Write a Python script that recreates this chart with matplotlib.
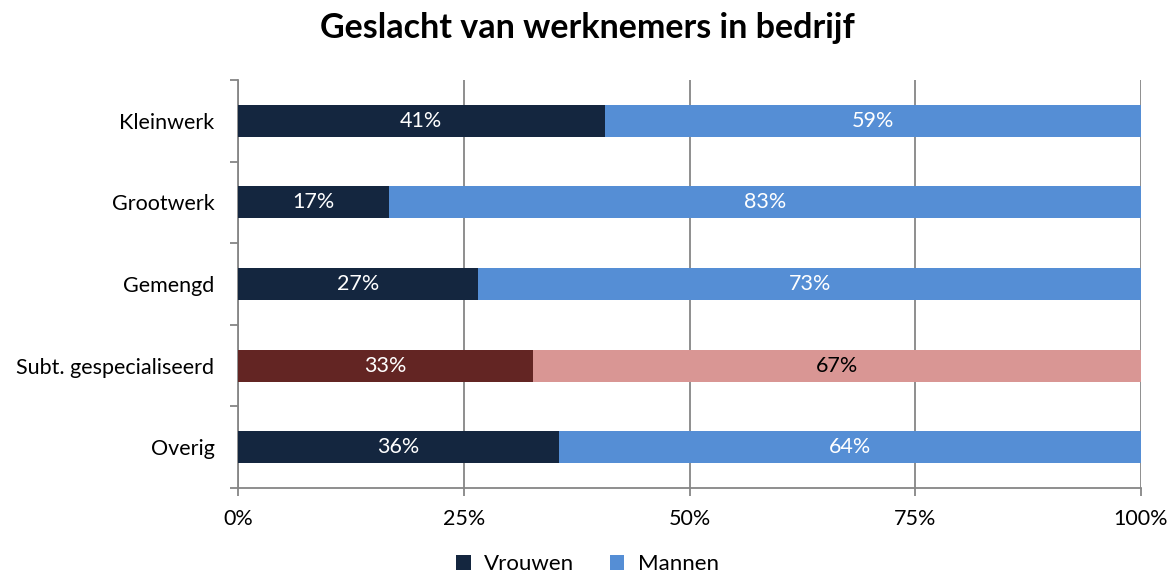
import numpy as np
import matplotlib.pyplot as plt
from matplotlib.ticker import FixedLocator, PercentFormatter

plt.rcParams['font.family'] = ['Lato', 'DejaVu Sans']

CATEGORIES = ['Kleinwerk', 'Grootwerk', 'Gemengd', 'Subt. gespecialiseerd', 'Overig']
VROUWEN = [0.406, 0.167, 0.266, 0.327, 0.355]
MANNEN = [0.594, 0.833, 0.734, 0.673, 0.645]

DARK = ['#14263f', '#14263f', '#14263f', '#632523', '#14263f']
LIGHT = ['#558ed5', '#558ed5', '#558ed5', '#d99694', '#558ed5']
LIGHT_TEXT = ['white', 'white', 'white', 'black', 'white']

FS = 15.5

fig = plt.figure(figsize=(11.75, 5.79), dpi=100)
ax = fig.add_axes([0.2026, 0.1572, 0.7685, 0.7046])

y = np.arange(len(CATEGORIES))[::-1]
vr = np.array(VROUWEN)
mn = np.array(MANNEN)

ax.barh(y, vr, height=0.39, color=DARK, zorder=3)
ax.barh(y, mn, left=vr, height=0.39, color=LIGHT, zorder=3)

for i in range(len(CATEGORIES)):
    ax.text(vr[i] / 2, y[i], '%d%%' % round(vr[i] * 100), ha='center', va='center',
            color='white', fontsize=FS, zorder=4)
    ax.text(vr[i] + mn[i] / 2, y[i], '%d%%' % round(mn[i] * 100), ha='center', va='center',
            color=LIGHT_TEXT[i], fontsize=FS, zorder=4)

# proxies for the legend
ax.bar([0], [0], color='#14263f', label='Vrouwen')
ax.bar([0], [0], color='#558ed5', label='Mannen')

ax.set_xlim(0, 1)
ax.set_ylim(-0.5, len(CATEGORIES) - 0.5)
ax.set_xticks([0, 0.25, 0.5, 0.75, 1.0])
ax.xaxis.set_major_formatter(PercentFormatter(1.0, decimals=0))
ax.set_yticks(y)
ax.set_yticklabels(CATEGORIES)
ax.yaxis.set_minor_locator(FixedLocator(np.arange(-0.5, len(CATEGORIES), 1.0)))

ax.tick_params(axis='y', which='major', length=0, pad=17, labelsize=FS)
ax.tick_params(axis='y', which='minor', length=6, color='#868686', width=1.3)
ax.tick_params(axis='x', length=6, color='#868686', width=1.3, pad=9, labelsize=FS)

ax.grid(axis='x', color='#868686', linewidth=1.3, zorder=0)
for s in ['top', 'right']:
    ax.spines[s].set_visible(False)
for s in ['left', 'bottom']:
    ax.spines[s].set_color('#868686')
    ax.spines[s].set_linewidth(1.3)

fig.suptitle('Geslacht van werknemers in bedrijf', fontsize=24.5, fontweight='bold', y=0.98)

fig.legend(loc='lower center', ncol=2, frameon=False, fontsize=16, bbox_to_anchor=(0.5, -0.026),
           handlelength=0.65, handleheight=0.65, handletextpad=0.6, columnspacing=1.6)

fig.savefig('out.png', dpi=100)
